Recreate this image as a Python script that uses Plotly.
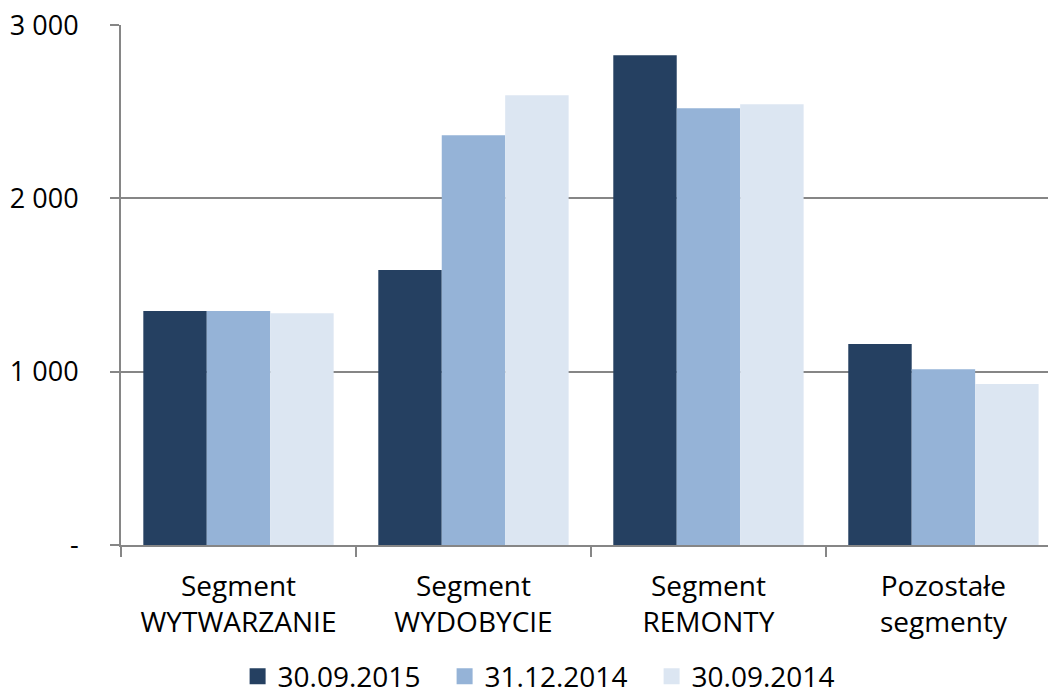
import plotly.graph_objects as go

categories = ["Segment<br>WYTWARZANIE", "Segment<br>WYDOBYCIE", "Segment<br>REMONTY", "Pozostałe<br>segmenty"]
series_names = ["30.09.2015", "31.12.2014", "30.09.2014"]
s_2015_09 = [1350, 1587, 2827, 1160]
s_2014_12 = [1350, 2365, 2521, 1015]
s_2014_09 = [1338, 2596, 2544, 929]
colors = ["#254061", "#95B3D7", "#DCE6F2"]
y_tickvals = [0, 1000, 2000, 3000]
y_ticktext = ["-", "1 000", "2 000", "3 000"]

FONT = "Open Sans"
fig = go.Figure()
for name, vals, col in zip(series_names, [s_2015_09, s_2014_12, s_2014_09], colors):
    fig.add_trace(go.Bar(x=categories, y=vals, name=name, marker=dict(color=col, line=dict(width=0)),
                         showlegend=False))
for name, col in zip(series_names, colors):
    fig.add_trace(go.Scatter(x=[None], y=[None], mode="markers", name=name,
                             marker=dict(symbol="square", size=20, color=col)))

fig.update_layout(
    width=1048, height=695,
    margin=dict(l=121, r=0, t=25, b=150, autoexpand=False),
    paper_bgcolor="white", plot_bgcolor="white",
    barmode="group", bargap=0.19, bargroupgap=0,
    font=dict(family=FONT, size=22, color="#000000"),
    legend=dict(orientation="h", xref="container", yref="paper", x=0.523, y=-0.253,
                xanchor="center", yanchor="middle", font=dict(size=28), itemwidth=30,
                entrywidth=162, entrywidthmode="pixels", tracegroupgap=0),
)
fig.update_xaxes(
    type="category", range=[-0.5, 3.445], automargin=False,
    showline=True, linecolor="#868686", linewidth=2,
    ticks="outside", tickson="boundaries", ticklen=10, tickcolor="#868686", tickwidth=2,
    showgrid=False, tickfont=dict(size=28), ticklabelstandoff=15,
)
fig.update_yaxes(
    range=[0, 3001], tickvals=y_tickvals, ticktext=y_ticktext, automargin=False,
    showline=True, linecolor="#868686", linewidth=2,
    ticks="outside", ticklen=9, tickcolor="#868686", tickwidth=2,
    showgrid=True, gridcolor="#868686", gridwidth=2, zeroline=False,
    tickfont=dict(size=27), ticklabelstandoff=26, ticklabeloverflow="allow",
)
fig.write_html("out.html", config={"displayModeBar": False},
               post_script="document.body.style.margin='0';document.body.style.overflow='hidden';")
